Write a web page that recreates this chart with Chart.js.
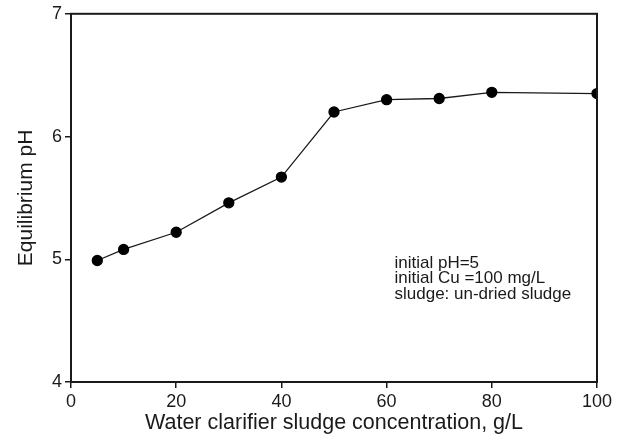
<!DOCTYPE html>
<html>
<head>
<meta charset="utf-8">
<script src="https://cdn.jsdelivr.net/npm/chart.js@4"></script>
<style>
  html, body { margin: 0; padding: 0; background: #fff; }
  #wrap { width: 621px; height: 437px; }
</style>
</head>
<body>
<div id="wrap"><canvas id="mychart"></canvas></div>
<script>
// sludge concentration (g/L) and measured equilibrium pH
var sludgeConc = [5, 10, 20, 30, 40, 50, 60, 70, 80, 100];
var eqPH = [4.99, 5.08, 5.22, 5.46, 5.67, 6.20, 6.30, 6.31, 6.36, 6.35];
var noteLines = ["initial pH=5", "initial Cu =100 mg/L", "sludge: un-dried sludge"];

var ink = '#1a1a1a';
var font = '"Liberation Sans", Arial, Helvetica, sans-serif';

// box round the plot + the condition note
var framePlugin = {
    id: 'frame',
    afterDraw: function(chart) {
        var ctx = chart.ctx, a = chart.chartArea;
        ctx.save();
        ctx.strokeStyle = ink;
        ctx.lineWidth = 2;
        ctx.strokeRect(a.left, a.top, a.right - a.left, a.bottom - a.top);
        // note text, anchored in data units
        var x = chart.scales.x.getPixelForValue(61.5);
        var y = chart.scales.y.getPixelForValue(4.97);
        ctx.fillStyle = ink;
        ctx.font = '17px ' + font;
        ctx.textBaseline = 'middle';
        noteLines.forEach(function(t, i) {
            ctx.fillText(t, x, y + i * 15.5);
        });
        ctx.restore();
    }
};

var myChart = new Chart(document.getElementById('mychart'), {
    type: 'line',
    data: {
        datasets: [{
            data: sludgeConc.map(function(v, i) { return { x: v, y: eqPH[i] }; }),
            borderColor: ink,
            borderWidth: 1.3,
            backgroundColor: '#000',
            pointBackgroundColor: '#000',
            pointBorderColor: '#000',
            pointRadius: 5,
            tension: 0,
            fill: false
        }]
    },
    options: {
        responsive: true,
        maintainAspectRatio: false,
        animation: false,
        layout: { padding: { left: 8, top: 13, right: 24, bottom: 0 } },
        plugins: { legend: { display: false }, tooltip: { enabled: false } },
        scales: {
            x: {
                type: 'linear',
                min: 0, max: 100,
                ticks: { stepSize: 20, color: ink, padding: 3, font: { family: font, size: 18 } },
                grid: { drawOnChartArea: false, drawTicks: true, tickLength: 6, color: ink, lineWidth: 1.5 },
                border: { display: true, color: ink, width: 2 },
                title: {
                    display: true,
                    text: 'Water clarifier sludge concentration, g/L',
                    color: ink,
                    font: { family: font, size: 21.5 },
                    padding: { top: 2, bottom: 1 }
                },
                afterFit: function(s) { s.height = 55; }
            },
            y: {
                min: 4, max: 7,
                ticks: { stepSize: 1, color: ink, padding: 3, font: { family: font, size: 18 } },
                grid: { drawOnChartArea: false, drawTicks: true, tickLength: 6, color: ink, lineWidth: 1.5 },
                border: { display: true, color: ink, width: 2 },
                title: {
                    display: true,
                    text: 'Equilibrium pH',
                    color: ink,
                    font: { family: font, size: 21 },
                    padding: { top: 6, bottom: 4 }
                },
                afterFit: function(s) { s.width = 63; }
            }
        }
    },
    plugins: [framePlugin]
});
</script>
</body>
</html>
